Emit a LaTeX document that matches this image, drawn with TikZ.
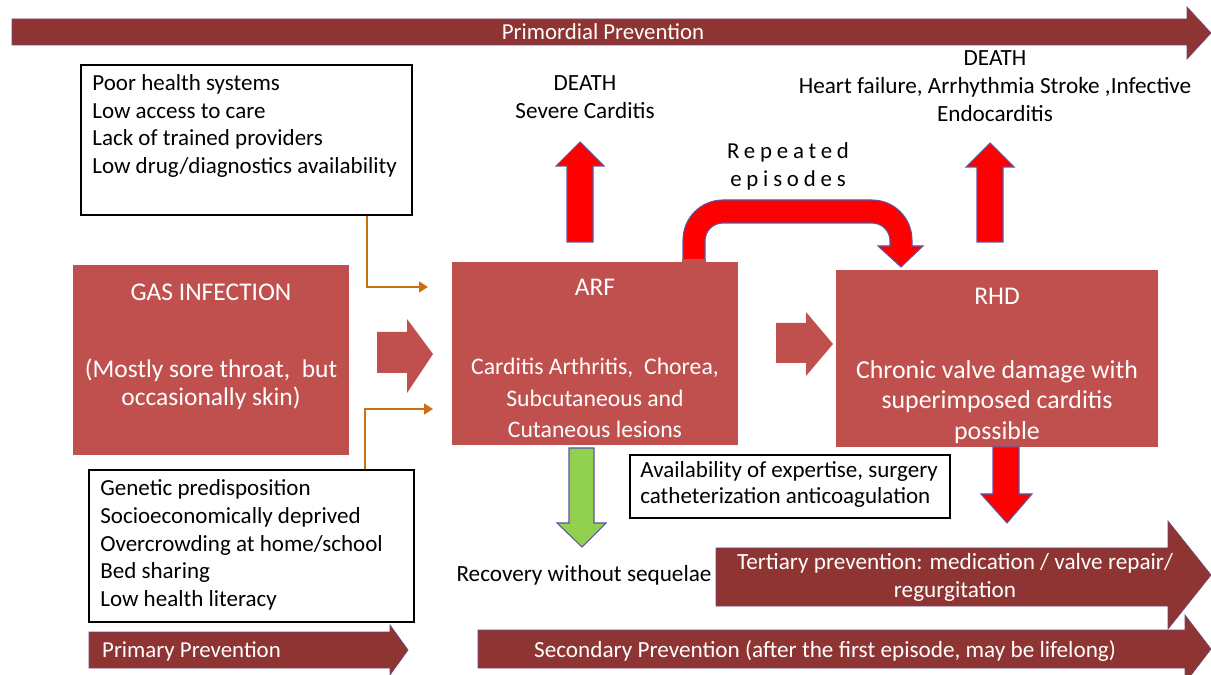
\documentclass[tikz,border=0pt]{standalone}
\usepackage{fontspec}
\setmainfont{Carlito}
\usetikzlibrary{arrows.meta,positioning}
\definecolor{stagered}{RGB}{192,80,77}
\definecolor{prevred}{RGB}{142,52,50}
\definecolor{alarmred}{RGB}{255,0,0}
\definecolor{edgeblue}{RGB}{95,85,160}
\definecolor{recgreen}{RGB}{146,208,80}
\definecolor{linkorange}{RGB}{204,110,20}
\tikzset{
  stagebox/.style={fill=stagered, inner sep=0pt},
  stagetext/.style={text=white, align=center, font=\fontsize{14.5}{16}\selectfont},
  factorbox/.style={draw=black, line width=1.3pt, fill=white, inner sep=0pt},
  factortext/.style={align=left, font=\fontsize{13.1}{15.7}\selectfont, inner sep=0pt},
  plaintext/.style={align=center, font=\fontsize{13.2}{16}\selectfont},
  prevarrow/.style={fill=prevred, draw=edgeblue!60!prevred, line width=0.4pt},
  prevtext/.style={text=white, align=center, font=\fontsize{13.2}{16}\selectfont},
  alarmarrow/.style={fill=alarmred, draw=edgeblue, line width=0.6pt},
  stagearrow/.style={fill=stagered},
  feedline/.style={draw=linkorange, line width=1.2pt, -{Triangle[length=5pt,width=6pt]}},
}
\begin{document}
\begin{tikzpicture}[x=0.02cm, y=-0.02cm]
    \useasboundingbox (0,0) rectangle (1211,675);

    % prevention levels
    \draw[prevarrow] (12,19) -- (1187,19) -- (1187,7) -- (1211,33) -- (1187,59) -- (1187,45) -- (12,45) -- cycle;
    \node[prevtext, font=\fontsize{13}{16}\selectfont] (primordial) at (603,32) {Primordial Prevention};
    \draw[prevarrow] (716,548) -- (1168,548) -- (1168,521) -- (1211,575) -- (1168,629) -- (1168,606) -- (716,606) -- cycle;
    \node[prevtext] (tertiary) at (955,577) {Tertiary prevention: medication / valve repair/\\regurgitation};
    \draw[prevarrow] (478,630) -- (1185,630) -- (1185,615) -- (1211,649) -- (1185,683) -- (1185,668) -- (478,668) -- cycle;
    \node[prevtext] (secondary) at (825,651) {Secondary Prevention (after the first episode, may be lifelong)};
    \draw[prevarrow] (89,632) -- (390,632) -- (390,625) -- (408,650) -- (390,675) -- (390,668) -- (89,668) -- cycle;
    \node[prevtext, anchor=west, font=\fontsize{13}{16}\selectfont] (primary) at (96,651) {Primary Prevention};

    % stages
    \node[stagebox, minimum width=5.52cm, minimum height=3.8cm] (gas) at (211,360) {};
    \node[stagetext] (gastitle) at (211,292) {GAS INFECTION};
    \node[stagetext] (gasbody) at (211,384) {(Mostly sore throat,~ but\\occasionally skin)};
    \node[stagebox, minimum width=5.72cm, minimum height=3.66cm] (arf) at (595,353.5) {};
    \node[stagetext] (arftitle) at (595,287) {ARF};
    \node[stagetext, font=\fontsize{13.5}{17.8}\selectfont] (arfbody) at (595,398) {Carditis Arthritis,~ Chorea,\\Subcutaneous and\\Cutaneous lesions};
    \node[stagebox, minimum width=6.44cm, minimum height=3.54cm] (rhd) at (997,358.5) {};
    \node[stagetext] (rhdtitle) at (997,296) {RHD};
    \node[stagetext, font=\fontsize{14.7}{17.2}\selectfont] (rhdbody) at (997,402) {Chronic valve damage with\\superimposed carditis\\possible};

    % risk factors
    \node[factorbox, minimum width=6.62cm, minimum height=3cm] (poor) at (246.5,140) {};
    \node[factortext, anchor=west] (poortext) at (92,126) {Poor health systems\\Low access to care\\Lack of trained providers\\Low drug/diagnostics availability};
    \node[factorbox, minimum width=6.5cm, minimum height=3.04cm] (genetic) at (251.5,546) {};
    \node[factortext, anchor=west] (genetictext) at (100,545) {Genetic predisposition\\Socioeconomically deprived\\Overcrowding at home/school\\Bed sharing\\Low health literacy};
    \node[factorbox, minimum width=6.4cm, minimum height=1.26cm] (expertise) at (790,486.5) {};
    \node[factortext, anchor=west, font=\fontsize{13.1}{14.8}\selectfont] (expertisetext) at (640,484) {Availability of expertise, surgery\\catheterization anticoagulation};

    % outcomes
    \node[plaintext] (deathearly) at (585,97) {DEATH\\Severe Carditis};
    \node[plaintext] (deathlate) at (995,86.5) {DEATH\\Heart failure, Arrhythmia Stroke ,Infective\\Endocarditis};
    \node[plaintext] (recovery) at (584,575) {Recovery without sequelae};
    \node[plaintext, font=\fontsize{13}{16}\selectfont\addfontfeature{LetterSpace=21}] (repeated) at (788,166) {Repeated\\episodes};

    % links
    \coordinate (poorlink) at (367,0);
    \coordinate (genlink) at (365,0);
    \coordinate (arfin) at (428,287);
    \coordinate (arfin2) at (433,409);
    \draw[feedline] (poor.south -| poorlink) |- (arfin);
    \draw[feedline] (genetic.north -| genlink) |- (arfin2);
    \fill[stagearrow] (377,332) -- (407,332) -- (407,319) -- (433,354) -- (407,393) -- (407,373) -- (377,373) -- cycle;
    \fill[stagearrow] (776,323) -- (806,323) -- (806,312) -- (833,344) -- (806,376) -- (806,363) -- (776,363) -- cycle;
    \draw[alarmarrow] (567,242) -- (567,166) -- (556,166) -- (580,142) -- (604,166) -- (593,166) -- (593,242) -- cycle;
    \draw[alarmarrow] (977,242) -- (977,167) -- (966,167) -- (990,143) -- (1014,167) -- (1003,167) -- (1003,242) -- cycle;
    \draw[alarmarrow] (993,447) -- (993,494) -- (981,494) -- (1007,523) -- (1032,494) -- (1019,494) -- (1019,447) -- cycle;
    \draw[alarmarrow, fill=recgreen] (569,448) -- (569,523) -- (557,523) -- (582,547) -- (606,523) -- (594,523) -- (594,448) -- cycle;
    \draw[alarmarrow] (683,262) [rounded corners=0.8cm] -- (683,200) -- (912,200) [sharp corners] -- (912,246) -- (923,246) -- (901,267) -- (878,246) -- (890,246) [rounded corners=0.36cm] -- (890,223) -- (705,223) [sharp corners] -- (705,262) -- cycle;
    \fill[stagered] (682,259) rectangle (706,263);
\end{tikzpicture}
\end{document}
